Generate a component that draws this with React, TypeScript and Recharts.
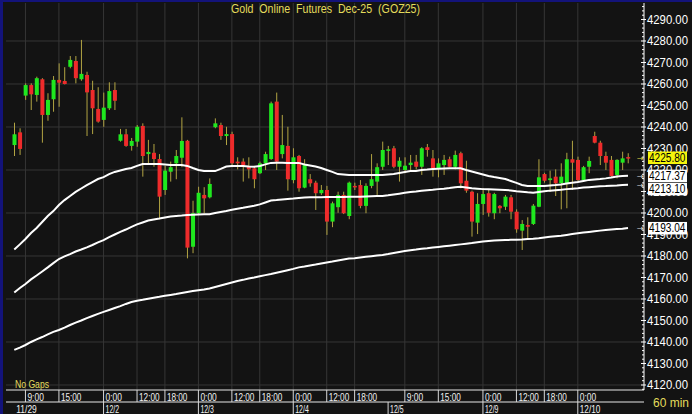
import React from 'react';
import { ComposedChart, Bar, Line, XAxis, YAxis, CartesianGrid, Customized } from 'recharts';

// ---------- data (60 min bars, Gold Online Futures Dec-25) ----------
const opens = [
  4231.6, 4237.5, 4254.6, 4259.5, 4254.9, 4262.2, 4245.6, 4252.9, 4261.9, 4261.4,
  4268.0, 4270.7, 4262.2, 4264.2, 4257.2, 4248.4, 4243.3, 4248.7, 4257.2, 4233.6,
  4236.6, 4231.2, 4233.2, 4240.5, 4227.4, 4228.0, 4225.1, 4210.7, 4219.2, 4223.1,
  4225.7, 4233.6, 4184.3, 4199.9, 4208.4, 4207.3, 4239.9, 4240.9, 4235.8, 4236.7,
  4223.9, 4223.9, 4221.5, 4220.8, 4218.5, 4223.1, 4225.1, 4251.8, 4227.4, 4231.2,
  4215.3, 4226.5, 4211.8, 4215.7, 4214.1, 4209.2, 4210.7, 4196.0, 4202.7, 4208.4,
  4198.6, 4212.6, 4213.0, 4203.3, 4212.6, 4214.6, 4221.5, 4229.0, 4230.1, 4221.5,
  4220.0, 4222.3, 4223.9, 4221.5, 4230.6, 4225.4, 4220.8, 4222.3, 4225.0, 4221.5,
  4227.8, 4215.0, 4209.9, 4195.5, 4204.2, 4209.2, 4199.9, 4203.3, 4202.9, 4207.3,
  4200.6, 4191.8, 4194.4, 4194.9, 4202.9, 4218.1, 4215.3, 4216.9, 4213.8, 4213.8,
  4225.0, 4224.7, 4215.3, 4221.5, 4235.8, 4232.7, 4226.5, 4224.7, 4217.7, 4223.4,
  4226.0,
];
const highs = [
  4242.0, 4239.4, 4260.3, 4260.3, 4263.4, 4262.7, 4255.7, 4263.7, 4269.6, 4267.8,
  4273.0, 4273.0, 4280.5, 4265.7, 4261.5, 4258.5, 4256.0, 4260.8, 4260.8, 4239.1,
  4239.1, 4234.9, 4240.9, 4241.7, 4234.0, 4232.1, 4227.4, 4221.9, 4223.9, 4229.3,
  4244.5, 4234.0, 4205.7, 4212.2, 4212.0, 4216.1, 4244.0, 4242.0, 4240.1, 4237.8,
  4225.9, 4225.4, 4225.9, 4221.9, 4223.9, 4228.5, 4251.8, 4256.0, 4245.6, 4240.1,
  4230.1, 4227.0, 4225.0, 4218.1, 4215.0, 4213.0, 4212.6, 4205.3, 4209.9, 4209.9,
  4214.6, 4214.1, 4215.3, 4213.8, 4227.4, 4223.1, 4233.2, 4231.2, 4231.2, 4225.9,
  4225.9, 4227.0, 4227.0, 4230.6, 4232.1, 4229.3, 4225.4, 4227.0, 4226.2, 4229.0,
  4228.5, 4224.3, 4210.4, 4209.2, 4211.5, 4210.7, 4209.4, 4203.7, 4208.4, 4208.4,
  4201.7, 4196.7, 4198.0, 4204.2, 4225.0, 4218.7, 4219.7, 4220.3, 4223.1, 4228.0,
  4233.6, 4226.2, 4221.9, 4226.2, 4237.8, 4233.6, 4228.5, 4226.5, 4225.0, 4228.5,
  4227.8,
];
const lows = [
  4226.5, 4227.0, 4252.6, 4247.9, 4251.8, 4232.7, 4242.9, 4247.1, 4249.4, 4259.8,
  4267.3, 4260.3, 4261.5, 4235.8, 4236.7, 4242.0, 4240.1, 4247.9, 4247.9, 4233.2,
  4230.8, 4229.0, 4230.8, 4216.9, 4223.1, 4221.5, 4197.1, 4208.4, 4214.6, 4215.7,
  4221.3, 4178.9, 4181.3, 4199.1, 4199.9, 4206.8, 4239.4, 4234.0, 4231.6, 4221.3,
  4220.3, 4214.6, 4216.1, 4211.5, 4218.1, 4220.0, 4224.7, 4220.0, 4225.4, 4210.4,
  4213.8, 4209.9, 4211.5, 4212.2, 4201.4, 4208.4, 4189.8, 4193.4, 4200.1, 4199.5,
  4197.1, 4210.7, 4202.2, 4199.9, 4211.5, 4208.4, 4220.0, 4222.3, 4220.8, 4214.6,
  4218.5, 4220.0, 4220.3, 4217.7, 4226.2, 4216.9, 4216.6, 4217.7, 4221.3, 4220.3,
  4211.5, 4209.4, 4189.0, 4190.2, 4199.1, 4198.3, 4197.1, 4199.9, 4201.4, 4197.1,
  4190.8, 4182.8, 4188.2, 4194.4, 4202.7, 4214.1, 4209.9, 4207.9, 4201.7, 4202.2,
  4210.7, 4214.6, 4214.6, 4218.5, 4232.4, 4222.3, 4220.0, 4216.9, 4216.1, 4220.0,
  4223.1,
];
const closes = [
  4236.6, 4229.8, 4259.5, 4255.2, 4262.7, 4245.6, 4252.6, 4261.9, 4260.6, 4260.0,
  4271.2, 4262.7, 4264.7, 4256.1, 4248.7, 4242.5, 4249.0, 4256.7, 4252.2, 4236.6,
  4231.2, 4233.5, 4240.1, 4226.5, 4228.4, 4225.1, 4207.6, 4219.7, 4221.3, 4226.5,
  4233.5, 4183.9, 4199.9, 4209.4, 4206.8, 4213.5, 4241.7, 4235.8, 4236.7, 4223.1,
  4223.1, 4222.3, 4220.3, 4215.7, 4223.1, 4227.4, 4251.0, 4223.9, 4231.6, 4215.7,
  4225.9, 4211.5, 4222.3, 4213.8, 4209.2, 4210.7, 4196.0, 4204.5, 4208.4, 4199.9,
  4214.1, 4212.0, 4203.3, 4212.6, 4215.7, 4221.3, 4229.3, 4229.6, 4221.5, 4224.3,
  4222.0, 4223.4, 4221.5, 4230.1, 4229.3, 4220.8, 4223.1, 4224.7, 4221.5, 4227.0,
  4213.8, 4210.4, 4196.0, 4204.2, 4208.8, 4200.1, 4208.8, 4202.2, 4207.6, 4200.6,
  4192.4, 4194.9, 4193.6, 4203.4, 4216.6, 4215.0, 4216.1, 4213.8, 4216.9, 4225.0,
  4223.4, 4215.3, 4221.3, 4224.2, 4232.7, 4226.5, 4223.4, 4217.2, 4224.7, 4225.4,
  4225.8,
];
// moving averages (fast / medium / slow)
const maFast = [
  4183.0, 4185.4, 4187.9, 4190.7, 4193.0, 4195.8, 4198.6, 4200.9, 4203.7, 4206.0,
  4207.9, 4209.8, 4211.4, 4213.0, 4214.4, 4215.8, 4216.7, 4218.1, 4219.1, 4219.8,
  4220.5, 4220.9, 4221.9, 4222.8, 4222.8, 4222.8, 4222.8, 4222.6, 4222.3, 4222.3,
  4222.3, 4221.9, 4220.9, 4220.0, 4219.5, 4219.5, 4219.5, 4220.5, 4221.6, 4221.9,
  4221.9, 4221.9, 4221.6, 4221.5, 4221.9, 4222.6, 4223.3, 4223.4, 4223.4, 4223.3,
  4223.3, 4223.3, 4222.6, 4222.1, 4221.6, 4220.9, 4220.0, 4219.1, 4218.1, 4217.9,
  4217.7, 4217.7, 4217.7, 4217.7, 4217.7, 4217.7, 4217.7, 4217.9, 4218.1, 4218.6,
  4219.1, 4219.5, 4219.5, 4220.0, 4220.2, 4220.5, 4220.6, 4220.7, 4220.8, 4220.8,
  4220.8, 4220.0, 4219.3, 4218.6, 4217.9, 4217.2, 4216.7, 4216.3, 4215.8, 4214.9,
  4214.0, 4213.0, 4212.6, 4212.6, 4212.6, 4212.6, 4212.8, 4213.0, 4213.3, 4213.7,
  4214.1, 4214.4, 4214.9, 4215.4, 4215.6, 4215.8, 4216.1, 4216.5, 4217.0, 4217.2,
  4217.37,
];
const maMid = [
  4163.0, 4165.1, 4167.0, 4169.1, 4170.9, 4172.8, 4174.7, 4176.7, 4178.6, 4179.8,
  4180.9, 4182.1, 4183.0, 4184.0, 4185.1, 4186.3, 4187.4, 4188.8, 4190.0, 4191.2,
  4192.3, 4193.5, 4194.7, 4195.6, 4196.5, 4197.0, 4197.4, 4197.9, 4198.4, 4198.6,
  4198.8, 4199.1, 4199.2, 4199.3, 4199.4, 4199.4, 4200.0, 4200.5, 4200.9, 4201.5,
  4202.0, 4202.4, 4202.9, 4203.4, 4204.0, 4204.9, 4205.8, 4206.0, 4206.3, 4206.5,
  4206.7, 4207.0, 4207.2, 4207.3, 4207.3, 4207.3, 4207.4, 4207.4, 4207.4, 4207.4,
  4207.5, 4207.6, 4207.6, 4207.7, 4207.8, 4207.9, 4207.9, 4208.2, 4208.6, 4209.0,
  4209.4, 4209.8, 4210.0, 4210.3, 4210.6, 4210.8, 4211.1, 4211.3, 4211.6, 4212.0,
  4212.2, 4211.9, 4211.5, 4211.3, 4211.1, 4211.0, 4210.9, 4210.8, 4210.7, 4210.5,
  4210.1, 4209.9, 4209.6, 4209.4, 4209.8, 4210.1, 4210.4, 4210.6, 4210.8, 4211.1,
  4211.3, 4211.5, 4211.8, 4212.0, 4212.2, 4212.4, 4212.5, 4212.7, 4212.8, 4213.0,
  4213.10,
];
const maSlow = [
  4136.3, 4137.4, 4138.6, 4140.0, 4141.2, 4142.3, 4143.5, 4144.7, 4145.6, 4146.7,
  4147.9, 4149.0, 4150.0, 4151.1, 4152.1, 4153.1, 4154.0, 4154.9, 4155.8, 4156.7,
  4157.7, 4158.6, 4159.2, 4159.6, 4160.1, 4160.6, 4161.0, 4161.5, 4161.9, 4162.3,
  4162.8, 4163.3, 4163.7, 4164.1, 4164.4, 4164.9, 4165.6, 4166.3, 4167.0, 4167.7,
  4168.4, 4168.9, 4169.5, 4170.0, 4170.6, 4171.1, 4171.6, 4172.2, 4172.8, 4173.4,
  4174.0, 4174.7, 4175.1, 4175.6, 4176.0, 4176.5, 4177.0, 4177.4, 4177.9, 4178.4,
  4178.8, 4179.0, 4179.3, 4179.6, 4179.9, 4180.2, 4180.5, 4180.9, 4181.4, 4181.9,
  4182.3, 4182.7, 4183.0, 4183.4, 4183.6, 4183.9, 4184.2, 4184.5, 4184.8, 4185.1,
  4185.4, 4185.7, 4186.0, 4186.4, 4186.7, 4187.0, 4187.2, 4187.3, 4187.4, 4187.5,
  4187.6, 4187.7, 4187.9, 4188.0, 4188.2, 4188.6, 4188.9, 4189.2, 4189.4, 4189.8,
  4190.2, 4190.6, 4190.9, 4191.2, 4191.5, 4191.8, 4192.1, 4192.3, 4192.5, 4192.7,
  4193.04,
];

const timeTickBars = [3, 9, 17, 23, 28, 34, 40, 45, 51, 57, 62, 71, 77, 85, 91, 96, 102];
const timeTickLabels = ['9:00', '15:00', '0:00', '12:00', '18:00', '0:00', '12:00', '18:00', '0:00', '12:00', '18:00', '9:00', '15:00', '0:00', '12:00', '18:00', '0:00'];
const dateTickBars = [1, 17, 34, 51, 68, 85, 102];
const dateTickLabels = ['11/29', '12/2', '12/3', '12/4', '12/5', '12/9', '12/10'];
const gridPrices = [4120, 4140, 4160, 4180, 4200, 4220, 4240, 4260, 4280];

const TITLE = 'Gold  Online  Futures  Dec-25  (GOZ25)';

// ---------- styles ----------
const BG = '#131313';
const BLUE = '#13137a';
const GRID = '#363636';
const GREEN = '#1fe81f';
const RED = '#ee2b2b';
const WICK = '#b2a443';
const YELLOW_TXT = '#e4dc5c';
const FONT = 'Liberation Sans, Arial, sans-serif';
const Y_DOMAIN: [number, number] = [4117.67, 4297.67];

const data = opens.map((o, i) => ({
  bar: i + 1,
  open: o,
  high: highs[i],
  low: lows[i],
  close: closes[i],
  range: [lows[i], highs[i]],
  maFast: maFast[i],
  maMid: maMid[i],
  maSlow: maSlow[i],
}));

const last = data.length - 1;

// last-value tags shown on the price axis: [value, background, arrow colour, vertical nudge]
const tagValues = [maSlow[last], maMid[last], maFast[last], closes[last]];
const tagBg = ['#ffffff', '#ffffff', '#ffffff', '#f4f40c'];
const tagArrow = ['#e0e0e0', '#e0e0e0', '#e0e0e0', '#e6dc4a'];
const tagNudge = [0, 4, 0, 0];

const scaleTicks: number[] = [];
for (let v = 4118; v <= 4296; v += 2) scaleTicks.push(v);
const rightTicks = [...scaleTicks, ...tagValues];

const timeMap = new Map<number, string>(timeTickBars.map((b, i) => [b, timeTickLabels[i]]));
const dateMap = new Map<number, string>(dateTickBars.map((b, i) => [b, dateTickLabels[i]]));

const Candle = (p: any) => {
  const { x, y, width, height, payload } = p;
  if (x == null || !payload) return null;
  const top = Math.min(y, y + height);
  const h = Math.abs(height);
  const { open, close, high, low } = payload;
  const k = high > low ? h / (high - low) : 0;
  const yv = (v: number) => top + (high - v) * k;
  const cx = x + width / 2;
  const bt = yv(Math.max(open, close));
  const bb = yv(Math.min(open, close));
  const up = close >= open;
  return (
    <g>
      <line x1={cx} x2={cx} y1={top} y2={top + h} stroke={WICK} strokeWidth={1} />
      <rect x={cx - 2} y={bt} width={4} height={Math.max(bb - bt, 1.5)} fill={up ? GREEN : RED} />
    </g>
  );
};

const RightTick = (p: any) => {
  const { x, y, payload, index } = p;
  const v = payload.value as number;
  const tagIdx = index >= scaleTicks.length ? index - scaleTicks.length : -1;
  if (tagIdx >= 0) {
    const by = y + tagNudge[tagIdx];
    return (
      <g>
        <text x={x - 7} y={y + 3} fill={tagArrow[tagIdx]} fontSize={8} fontFamily="DejaVu Sans, sans-serif">→</text>
        <rect x={x + 4} y={by - 6} width={39} height={12.5} fill={tagBg[tagIdx]} />
        <text x={x + 5} y={by + 4.4} fill="#000000" fontSize={12} fontFamily={FONT} textLength={36.5} lengthAdjust="spacingAndGlyphs">
          {v.toFixed(2)}
        </text>
      </g>
    );
  }
  const major = v % 10 === 0;
  return (
    <g>
      <line x1={x - (major ? 3 : 2)} x2={x + (major ? 2 : 0)} y1={y} y2={y} stroke="#ffffff" strokeWidth={1} />
      {major && (
        <text x={x + 3} y={y + 4.4} fill="#ffffff" fontSize={12} fontFamily={FONT} textLength={41} lengthAdjust="spacingAndGlyphs">
          {v.toFixed(2)}
        </text>
      )}
    </g>
  );
};

const LeftTick = (p: any) => {
  const { x, y, payload } = p;
  const major = (payload.value as number) % 10 === 0;
  return <line x1={x} x2={x + (major ? 4 : 2)} y1={y} y2={y} stroke="#ffffff" strokeWidth={1} />;
};

const TimeTick = (p: any) => {
  const { x, y, payload } = p;
  const label = timeMap.get(payload.value);
  if (!label) return null;
  return (
    <g>
      <line x1={x} x2={x} y1={y} y2={y + 12} stroke="#d8d8d8" strokeWidth={1} />
      <text x={x + 2} y={y + 10.5} fill="#f0f0f0" fontSize={10} fontFamily={FONT} textLength={label.length * 4.1} lengthAdjust="spacingAndGlyphs">
        {label}
      </text>
    </g>
  );
};

const DateTick = (p: any) => {
  const { x, y, payload } = p;
  const label = dateMap.get(payload.value);
  if (!label) return null;
  const first = payload.value === dateTickBars[0];
  return (
    <g>
      {!first && <line x1={x} x2={x} y1={y} y2={y + 12} stroke="#d8d8d8" strokeWidth={1} />}
      <text x={x + 2} y={y + 10.7} fill="#f4f4f4" fontSize={11} fontFamily={FONT} textLength={label.length === 4 ? 13.5 : 20.5} lengthAdjust="spacingAndGlyphs">
        {label}
      </text>
    </g>
  );
};

const Decor = () => (
  <g>
    <text x={231} y={12.7} fill={YELLOW_TXT} fontSize={13} fontFamily={FONT} textLength={189} lengthAdjust="spacingAndGlyphs" style={{ whiteSpace: 'pre' }}>
      {TITLE}
    </text>
    <text x={15} y={387.5} fill={YELLOW_TXT} fontSize={10.5} fontFamily={FONT} textLength={34} lengthAdjust="spacingAndGlyphs">
      No Gaps
    </text>
    <text x={653} y={406.5} fill={YELLOW_TXT} fontSize={13} fontFamily={FONT} textLength={36} lengthAdjust="spacingAndGlyphs" style={{ whiteSpace: 'pre' }}>
      60 min
    </text>
  </g>
);

export default function App() {
  return (
    <div style={{ position: 'relative', width: 692, height: 414, background: BG, overflow: 'hidden' }}>
      <style>{`html,body{margin:0;padding:0;background:${BG};}`}</style>
      <ComposedChart width={692} height={414} data={data} margin={{ top: 3, right: 0, bottom: 0, left: 6 }}>
        <CartesianGrid
          xAxisId={0}
          yAxisId="r"
          stroke={GRID}
          horizontalValues={gridPrices}
          verticalValues={timeTickBars}
        />
        <XAxis
          xAxisId={0}
          dataKey="bar"
          type="category"
          height={12}
          padding={{ left: 5.5, right: 13.2 }}
          ticks={timeTickBars}
          interval={0}
          tickLine={false}
          tickSize={0}
          tickMargin={0}
          axisLine={{ stroke: '#e8e8e8' }}
          tick={<TimeTick />}
        />
        <XAxis
          xAxisId="d"
          dataKey="bar"
          type="category"
          height={12}
          padding={{ left: 5.5, right: 13.2 }}
          ticks={dateTickBars}
          interval={0}
          tickLine={false}
          tickSize={0}
          tickMargin={0}
          axisLine={{ stroke: '#e8e8e8' }}
          tick={<DateTick />}
        />
        <YAxis
          yAxisId="r"
          orientation="right"
          type="number"
          width={48}
          domain={Y_DOMAIN}
          allowDataOverflow
          ticks={rightTicks}
          interval={0}
          tickLine={false}
          tickSize={0}
          tickMargin={0}
          axisLine={{ stroke: '#ffffff' }}
          tick={<RightTick />}
        />
        <YAxis
          yAxisId="l"
          orientation="left"
          type="number"
          width={0}
          domain={Y_DOMAIN}
          allowDataOverflow
          ticks={scaleTicks}
          interval={0}
          tickLine={false}
          tickSize={0}
          tickMargin={0}
          axisLine={{ stroke: '#d0d0d0' }}
          tick={<LeftTick />}
        />
        <Bar yAxisId="r" dataKey="range" barSize={4} shape={<Candle />} isAnimationActive={false} />
        <Line yAxisId="r" type="linear" dataKey="maSlow" stroke="#ffffff" strokeWidth={2} dot={false} isAnimationActive={false} />
        <Line yAxisId="r" type="linear" dataKey="maMid" stroke="#ffffff" strokeWidth={2} dot={false} isAnimationActive={false} />
        <Line yAxisId="r" type="linear" dataKey="maFast" stroke="#ffffff" strokeWidth={2} dot={false} isAnimationActive={false} />
        <Customized component={<Decor />} />
      </ComposedChart>
      <div style={{ position: 'absolute', left: 0, top: 0, width: 692, height: 2, background: BLUE }} />
      <div style={{ position: 'absolute', left: 0, top: 0, width: 3, height: 414, background: BLUE }} />
    </div>
  );
}
